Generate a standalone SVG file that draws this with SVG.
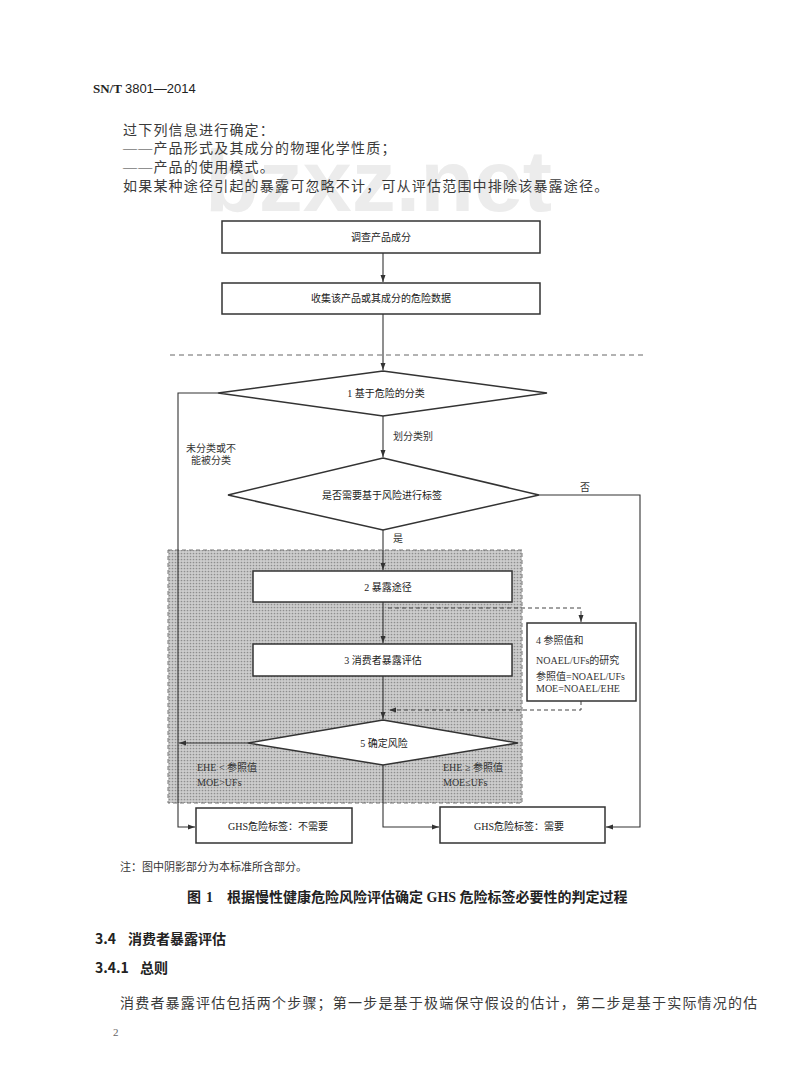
<svg xmlns="http://www.w3.org/2000/svg" width="800" height="1085" viewBox="0 0 800 1085">
<defs>
<pattern id="dots" width="3" height="3" patternUnits="userSpaceOnUse">
<rect width="3" height="3" fill="#cdcdcd"/>
<circle cx="1.5" cy="1.5" r="0.85" fill="#8e8e8e"/>
</pattern>
<marker id="arr" markerWidth="8" markerHeight="6" refX="7" refY="3" orient="auto" markerUnits="userSpaceOnUse">
<path d="M0,0.5 L7,3 L0,5.5 Z" fill="#333"/>
</marker>
</defs>
<style>
.body{font-family:"Liberation Serif","Noto Sans CJK SC",serif;font-size:14px;fill:#3a3a3a;letter-spacing:1.2px}
.hd{font-family:"Noto Sans CJK SC",sans-serif;font-size:14px;fill:#222;font-weight:bold}
.box{fill:#fff;stroke:#333;stroke-width:1.5}
.lbl{font-family:"Liberation Serif","Noto Sans CJK SC",serif;font-size:10px;fill:#222;text-anchor:middle}
.sm{font-family:"Liberation Serif","Noto Sans CJK SC",serif;font-size:10px;fill:#333}
.ln{fill:none;stroke:#333;stroke-width:1.1}
.dash{fill:none;stroke:#444;stroke-width:1;stroke-dasharray:4,3}
</style>
<rect width="800" height="1085" fill="#fff"/>
<text x="205" y="211" font-family="Liberation Sans,sans-serif" font-weight="bold" font-size="88" fill="#e4e4e4" opacity="0.7">bzxz.net</text>
<text x="93" y="93" font-family="Liberation Serif,serif" font-size="13" fill="#222" font-weight="bold">SN/T <tspan font-family="Liberation Sans,sans-serif" font-weight="normal">3801—2014</tspan></text>
<text class="body" x="123" y="135">过下列信息进行确定：</text>
<text class="body" x="123" y="153">——产品形式及其成分的物理化学性质；</text>
<text class="body" x="123" y="172">——产品的使用模式。</text>
<text class="body" x="123" y="191">如果某种途径引起的暴露可忽略不计，可从评估范围中排除该暴露途径。</text>
<line x1="170" y1="355" x2="647" y2="355" stroke="#666" stroke-width="1" stroke-dasharray="5,4"/>
<g id="shade"><rect x="168" y="550" width="354" height="253" fill="url(#dots)" stroke="#777" stroke-width="1" stroke-dasharray="4,3"/></g>
<g id="connectors">
<line class="ln" x1="383" y1="253" x2="383" y2="282" marker-end="url(#arr)"/>
<line class="ln" x1="383" y1="314" x2="383" y2="370" marker-end="url(#arr)"/>
<line class="ln" x1="383" y1="416" x2="383" y2="457" marker-end="url(#arr)"/>
<line class="ln" x1="383" y1="530" x2="383" y2="570" marker-end="url(#arr)"/>
<line class="ln" x1="383" y1="602" x2="383" y2="643" marker-end="url(#arr)"/>
<line class="ln" x1="383" y1="676" x2="383" y2="719" marker-end="url(#arr)"/>
<polyline class="ln" points="218,393 178,393 178,827 195,827" marker-end="url(#arr)"/>
<line class="ln" x1="248" y1="743" x2="179" y2="743" marker-end="url(#arr)"/>
<polyline class="ln" points="539,495 640,495 640,827 606,827" marker-end="url(#arr)"/>
<polyline class="ln" points="383,765 383,827 439,827" marker-end="url(#arr)"/>
<polyline class="dash" points="388,608 581,608 581,622" marker-end="url(#arr)"/>
<polyline class="dash" points="581,701 581,710 389,710" marker-end="url(#arr)"/>
</g>
<g id="n1"><rect class="box" x="222" y="221" width="318" height="32"/><text class="lbl" x="381" y="241">调查产品成分</text></g>
<g id="n2"><rect class="box" x="222" y="283" width="318" height="31"/><text class="lbl" x="381" y="302">收集该产品或其成分的危险数据</text></g>
<g id="d1"><polygon class="box" points="383,371 547,393 383,416 218,393"/><text class="lbl" x="386" y="397">1 基于危险的分类</text></g>
<g id="d2"><polygon class="box" points="383,458 539,495 383,530 228,495"/><text class="lbl" x="382" y="499">是否需要基于风险进行标签</text></g>
<g id="n3"><rect class="box" x="253" y="571" width="259" height="31"/><text class="lbl" x="388" y="591">2 暴露途径</text></g>
<g id="n4"><rect class="box" x="253" y="644" width="259" height="32"/><text class="lbl" x="383" y="664">3 消费者暴露评估</text></g>
<g id="n5"><rect class="box" x="527" y="623" width="109" height="78"/>
<text class="sm" x="536" y="644">4 参照值和</text>
<text class="sm" x="536" y="664">NOAEL/UFs的研究</text>
<text class="sm" x="536" y="680">参照值=NOAEL/UFs</text>
<text class="sm" x="536" y="692">MOE=NOAEL/EHE</text></g>
<g id="d5"><polygon class="box" points="383,720 518,743 383,765 248,743"/><text class="lbl" x="384" y="747">5 确定风险</text></g>
<g id="n6"><rect class="box" x="196" y="808" width="156" height="35"/><text class="lbl" x="278" y="830">GHS危险标签：不需要</text></g>
<g id="n7"><rect class="box" x="440" y="807" width="165" height="36"/><text class="lbl" x="519" y="830">GHS危险标签：需要</text></g>
<g id="labels">
<text class="sm" x="186" y="452">未分类或不</text>
<text class="sm" x="191" y="464">能被分类</text>
<text class="sm" x="393" y="440">划分类别</text>
<text class="sm" x="580" y="491">否</text>
<text class="sm" x="393" y="542">是</text>
<text class="sm" x="197" y="771">EHE &lt; 参照值</text>
<text class="sm" x="197" y="786">MOE&gt;UFs</text>
<text class="sm" x="443" y="771">EHE ≥ 参照值</text>
<text class="sm" x="443" y="786">MOE≤UFs</text>
</g>
<text x="120" y="871" font-family="Noto Sans CJK SC,sans-serif" font-size="11" fill="#333">注：图中阴影部分为本标准所含部分。</text>
<text x="187" y="902" font-family="Liberation Serif,Noto Sans CJK SC,serif" font-size="14" font-weight="bold" fill="#222">图<tspan x="206">1</tspan><tspan x="227">根据慢性健康危险风险评估确定 GHS 危险标签必要性的判定过程</tspan></text>
<text class="hd" x="95" y="944">3.4<tspan x="128">消费者暴露评估</tspan></text>
<text class="hd" x="95" y="973">3.4.1<tspan x="140">总则</tspan></text>
<text class="body" x="120" y="1008" letter-spacing="1">消费者暴露评估包括两个步骤；第一步是基于极端保守假设的估计，第二步是基于实际情况的估</text>
<text x="113" y="1036" font-family="Liberation Serif,serif" font-size="11" fill="#666">2</text>
</svg>
